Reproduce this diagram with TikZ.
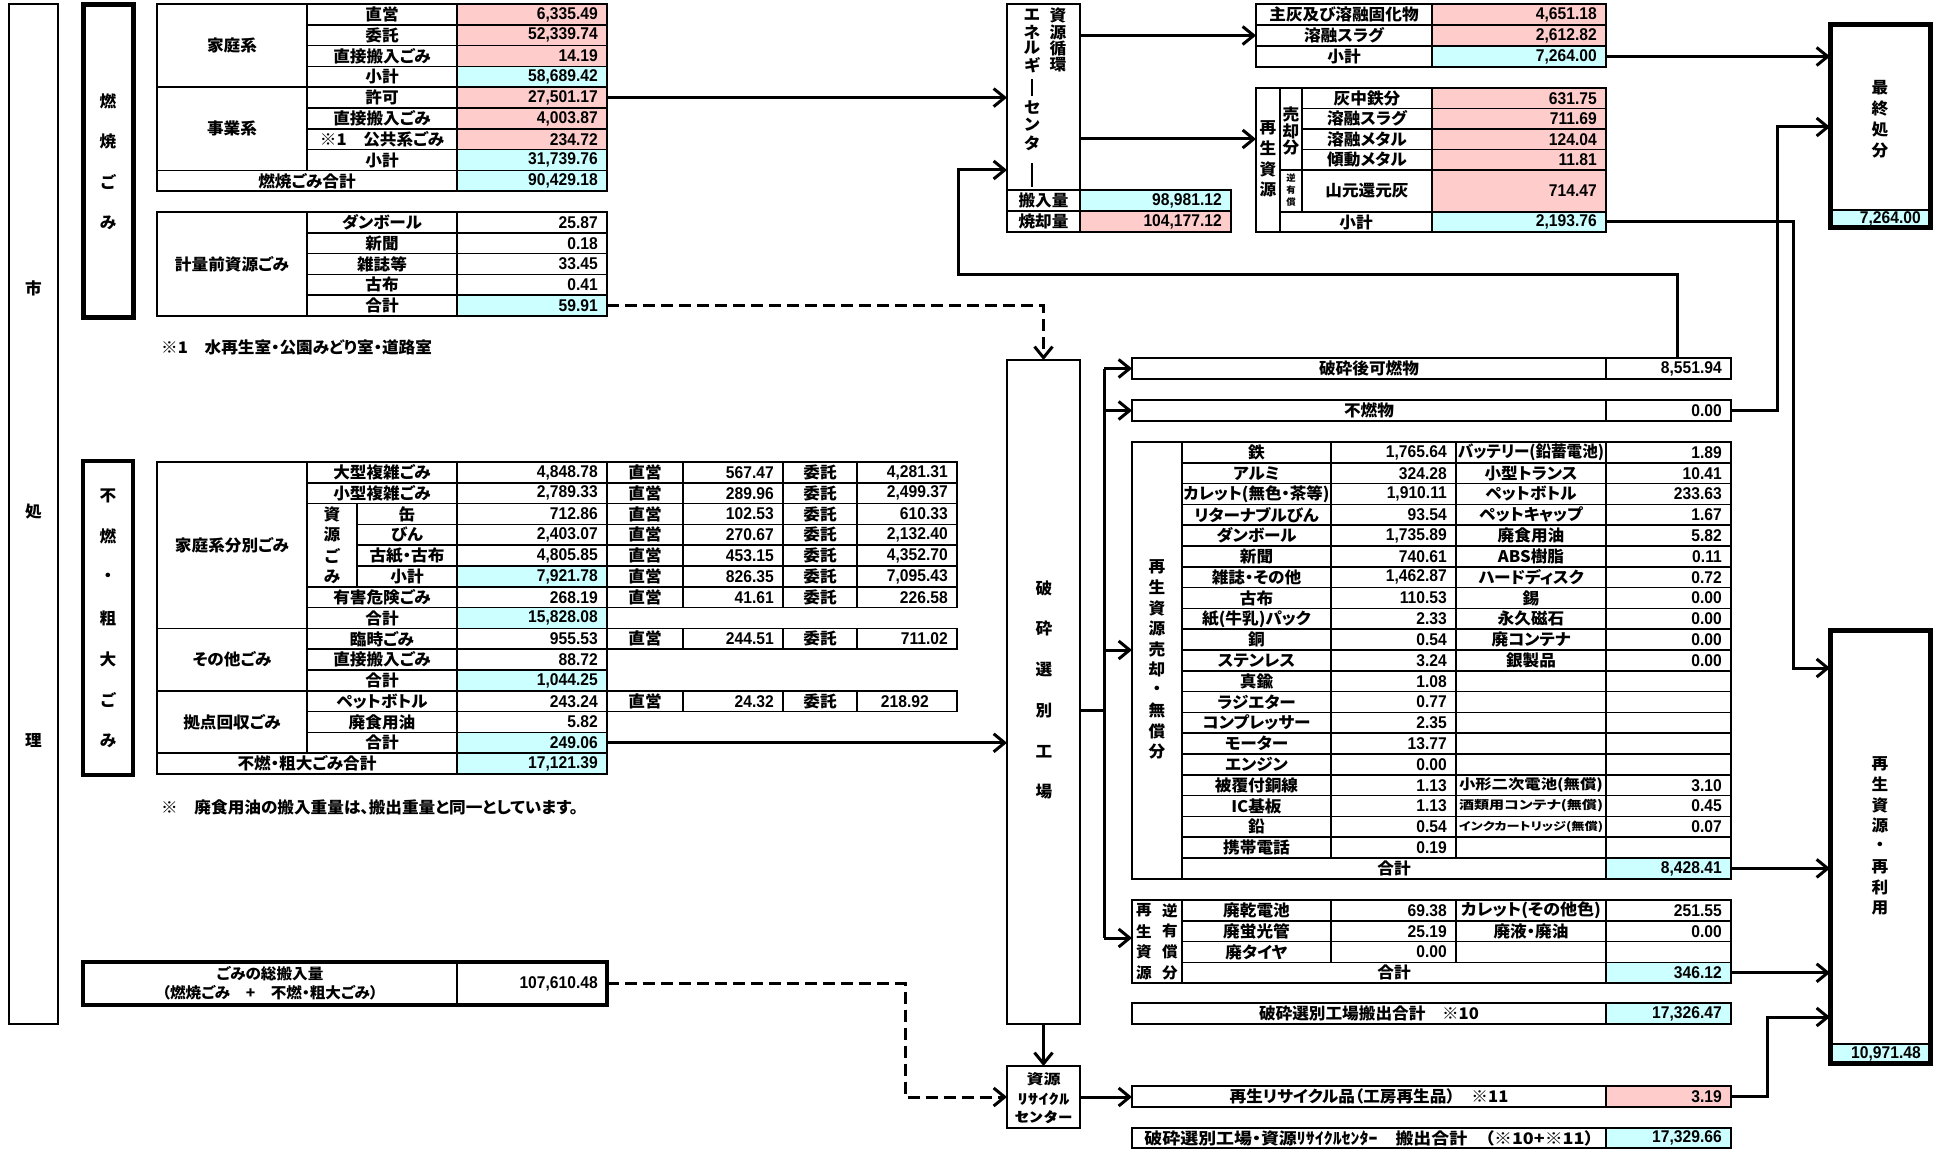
\documentclass[tikz,border=0pt]{standalone}
\usepackage{fontspec}
\usepackage{graphicx}
\usetikzlibrary{arrows.meta}
\newfontfamily\jp{Noto Sans CJK JP}[RawFeature=+palt,FakeStretch=1.04]
\newfontfamily\numf{Liberation Sans}[FakeStretch=0.92]
\definecolor{pk}{RGB}{255,204,204}
\definecolor{cy}{RGB}{204,255,255}
\newcommand\FitW[2]{\resizebox{#1}{\height}{#2}}
\tikzset{
  tx/.style={inner sep=0pt,font=\jp\bfseries\fontsize{16}{18}\selectfont},
  nx/.style={inner sep=0pt,font=\numf\bfseries\fontsize{17}{19}\selectfont},
  cell/.style={draw=black,line width=1.6pt,rectangle,inner sep=0pt,outer sep=0pt},
  bigbox/.style={draw=black,rectangle,inner sep=0pt,outer sep=0pt},
  vbar/.style={fill=black,rectangle,inner sep=0pt,outer sep=0pt,minimum width=2.6},
  conn/.style={line width=3pt,-{Straight Barb[length=11pt,width=18pt]}},
  dconn/.style={conn,dash pattern=on 12pt off 6pt},
  trunk/.style={line width=3pt},
}
% name x1 y1 x2 y2 fill text
\newcommand\Tcell[7]{\node[cell,tx,fill=#6,minimum width={#4-#2},minimum height={#5-#3}] (#1) at ({(#2+#4)/2},{(#3+#5)/2}) {#7};}
\newcommand\Vcell[7]{\node[cell,fill=#6,minimum width={#4-#2},minimum height={#5-#3}] (#1) at ({(#2+#4)/2},{(#3+#5)/2}) {};\node[nx,anchor=east] (#1t) at ([xshift=-9pt]#1.east) {#7};}
% id x1 ytop ybot fill label value
\newcommand\NVrow[7]{\Tcell{#1n}{#2}{#3}{457}{#4}{white}{#6}\Vcell{#1v}{457}{#3}{607}{#4}{#5}{#7}}
% id ytop ybot n1 v1 n2 v2
\newcommand\DRow[7]{\Tcell{#1a}{1182}{#2}{1331}{#3}{white}{#4}\Vcell{#1b}{1331}{#2}{1456}{#3}{white}{#5}\Tcell{#1c}{1456}{#2}{1606}{#3}{white}{#6}\Vcell{#1d}{1606}{#2}{1731}{#3}{white}{#7}}
% id ytop ybot v1 v2
\newcommand\EXrow[5]{\Tcell{#1a}{607}{#2}{683}{#3}{white}{直営}\Vcell{#1b}{683}{#2}{783}{#3}{white}{#4}\Tcell{#1c}{783}{#2}{857}{#3}{white}{委託}\Vcell{#1d}{857}{#2}{957}{#3}{white}{#5}}
% name x y0 pitch style list
\newcommand\VText[6]{\foreach \ch [count=\i] in {#6} {\node[tx,#5] (#1\i) at (#2,{#3+#4*(\i-1)}) {\ch};}}
\begin{document}
\begin{tikzpicture}[x=1pt,y=-1pt]
\fill[white] (0,0) rectangle (1944,1150);
\useasboundingbox (0,0) rectangle (1944,1150);

% ---- left boxes
\node[bigbox,line width=2.6pt,minimum width=49,minimum height=1020] (shi) at (33.5,514) {};
\node[tx] (shi1) at (33.5,288) {市};
\node[tx] (shi2) at (33.5,512) {処};
\node[tx] (shi3) at (33.5,740) {理};
\node[bigbox,line width=5pt,minimum width=50,minimum height=313] (nen) at (108,161.5) {};
\VText{nenc}{108}{101}{40.7}{}{燃,焼,ご,み}
\node[bigbox,line width=3.4pt,minimum width=50,minimum height=314] (fun) at (108,618) {};
\VText{func}{108}{496}{40.8}{}{不,燃,・,粗,大,ご,み}

% ---- table A
\Tcell{Aka}{157}{4}{307}{87.2}{white}{家庭系}
\Tcell{Ajg}{157}{87.2}{307}{170.4}{white}{事業系}
\NVrow{A0}{307}{4}{24.8}{pk}{直営}{6,335.49}
\NVrow{A1}{307}{24.8}{45.6}{pk}{委託}{52,339.74}
\NVrow{A2}{307}{45.6}{66.4}{pk}{直接搬入ごみ}{14.19}
\NVrow{A3}{307}{66.4}{87.2}{cy}{小計}{58,689.42}
\NVrow{A4}{307}{87.2}{108}{pk}{許可}{27,501.17}
\NVrow{A5}{307}{108}{128.8}{pk}{直接搬入ごみ}{4,003.87}
\NVrow{A6}{307}{128.8}{149.6}{pk}{※1　公共系ごみ}{234.72}
\NVrow{A7}{307}{149.6}{170.4}{cy}{小計}{31,739.76}
\NVrow{A8}{157}{170.4}{191.2}{cy}{燃焼ごみ合計}{90,429.18}

% ---- table B
\Tcell{Bl}{157}{212}{307}{316}{white}{計量前資源ごみ}
\NVrow{B0}{307}{212}{232.8}{white}{ダンボール}{25.87}
\NVrow{B1}{307}{232.8}{253.6}{white}{新聞}{0.18}
\NVrow{B2}{307}{253.6}{274.4}{white}{雑誌等}{33.45}
\NVrow{B3}{307}{274.4}{295.2}{white}{古布}{0.41}
\NVrow{B4}{307}{295.2}{316}{cy}{合計}{59.91}
\node[tx,anchor=west] (note1) at (161,347) {※1　水再生室・公園みどり室・道路室};

% ---- table C
\Tcell{Cl1}{157}{462}{307}{628.4}{white}{家庭系分別ごみ}
\Tcell{Cl2}{157}{628.4}{307}{690.8}{white}{その他ごみ}
\Tcell{Cl3}{157}{690.8}{307}{753.2}{white}{拠点回収ごみ}
\node[cell,minimum width=50,minimum height=83.2] (Csg) at (332,545.2) {};
\VText{Csgc}{332}{514}{20.8}{}{資,源,ご,み}
\NVrow{C0}{307}{462}{482.8}{white}{大型複雑ごみ}{4,848.78}
\NVrow{C1}{307}{482.8}{503.6}{white}{小型複雑ごみ}{2,789.33}
\NVrow{C2}{357}{503.6}{524.4}{white}{缶}{712.86}
\NVrow{C3}{357}{524.4}{545.2}{white}{びん}{2,403.07}
\NVrow{C4}{357}{545.2}{566}{white}{古紙・古布}{4,805.85}
\NVrow{C5}{357}{566}{586.8}{cy}{小計}{7,921.78}
\NVrow{C6}{307}{586.8}{607.6}{white}{有害危険ごみ}{268.19}
\NVrow{C7}{307}{607.6}{628.4}{cy}{合計}{15,828.08}
\NVrow{C8}{307}{628.4}{649.2}{white}{臨時ごみ}{955.53}
\NVrow{C9}{307}{649.2}{670}{white}{直接搬入ごみ}{88.72}
\NVrow{C10}{307}{670}{690.8}{cy}{合計}{1,044.25}
\NVrow{C11}{307}{690.8}{711.6}{white}{ペットボトル}{243.24}
\NVrow{C12}{307}{711.6}{732.4}{white}{廃食用油}{5.82}
\NVrow{C13}{307}{732.4}{753.2}{cy}{合計}{249.06}
\NVrow{C14}{157}{753.2}{774}{cy}{不燃・粗大ごみ合計}{17,121.39}
\EXrow{X0}{462}{482.8}{567.47}{4,281.31}
\EXrow{X1}{482.8}{503.6}{289.96}{2,499.37}
\EXrow{X2}{503.6}{524.4}{102.53}{610.33}
\EXrow{X3}{524.4}{545.2}{270.67}{2,132.40}
\EXrow{X4}{545.2}{566}{453.15}{4,352.70}
\EXrow{X5}{566}{586.8}{826.35}{7,095.43}
\EXrow{X6}{586.8}{607.6}{41.61}{226.58}
\EXrow{X8}{628.4}{649.2}{244.51}{711.02}
\Tcell{X11a}{607}{690.8}{683}{711.6}{white}{直営}
\Vcell{X11b}{683}{690.8}{783}{711.6}{white}{24.32}
\Tcell{X11c}{783}{690.8}{857}{711.6}{white}{委託}
\node[cell,minimum width=100,minimum height=20.8] (X11d) at (907,701.2) {};
\node[nx,anchor=east] (X11dt) at ([xshift=-28pt]X11d.east) {218.92};
\node[tx,anchor=west] (note2) at (161,807) {※　廃食用油の搬入重量は、搬出重量と同一としています。};

% ---- total table
\Tcell{Tl}{83}{962}{457}{1005}{white}{}
\node[tx,align=center,font=\jp\bfseries\fontsize{15}{19}\selectfont] (Tlt) at (270,983.5) {ごみの総搬入量\\（燃焼ごみ　+　不燃・粗大ごみ）};
\Vcell{Tv}{457}{962}{607}{1005}{white}{107,610.48}
\node[bigbox,line width=4.5pt,minimum width=524,minimum height=43] (Tbox) at (345,983.5) {};

% ---- energy center
\node[bigbox,line width=2pt,minimum width=73,minimum height=186] (enc) at (1043.5,97) {};
\foreach \ch/\yy [count=\i] in {エ/15,ネ/32,ル/48,ギ/65} {\node[tx] (encl\i) at (1032,\yy) {\ch};}
\node[vbar,minimum height=17] (encl5) at (1032,88) {};
\foreach \ch/\yy [count=\i from 6] in {セ/108,ン/125,タ/143} {\node[tx] (encl\i) at (1032,\yy) {\ch};}
\node[vbar,minimum height=24] (encl9) at (1032,175) {};
\foreach \ch/\yy [count=\i] in {資/15,源/32,循/48,環/65} {\node[tx] (encr\i) at (1058,\yy) {\ch};}
\Tcell{encIn}{1007}{190}{1080}{211}{white}{搬入量}
\Vcell{encInv}{1080}{190}{1231}{211}{cy}{98,981.12}
\Tcell{encBu}{1007}{211}{1080}{232}{white}{焼却量}
\Vcell{encBuv}{1080}{211}{1231}{232}{pk}{104,177.12}

% ---- table 1 (final disposal materials)
\Tcell{Pa}{1256}{4}{1432}{25}{white}{主灰及び溶融固化物}
\Vcell{Pav}{1432}{4}{1606}{25}{pk}{4,651.18}
\Tcell{Pb}{1256}{25}{1432}{46}{white}{溶融スラグ}
\Vcell{Pbv}{1432}{25}{1606}{46}{pk}{2,612.82}
\Tcell{Pc}{1256}{46}{1432}{67}{white}{小計}
\Vcell{Pcv}{1432}{46}{1606}{67}{cy}{7,264.00}

% ---- table 2 (recycled)
\node[cell,minimum width=24,minimum height=144] (Qa) at (1268,160) {};
\VText{Qac}{1268}{128}{20.5}{}{再,生,資,源}
\node[cell,minimum width=22,minimum height=82] (Qb) at (1291,129) {};
\VText{Qbc}{1291}{114}{17}{}{売,却,分}
\node[cell,minimum width=22,minimum height=42] (Qc) at (1291,191) {};
\VText{Qcc}{1291}{178}{12}{font=\jp\bfseries\fontsize{9}{10}\selectfont}{逆,有,償}
\Tcell{Q0}{1302}{88}{1432}{108.5}{white}{灰中鉄分}
\Vcell{Q0v}{1432}{88}{1606}{108.5}{pk}{631.75}
\Tcell{Q1}{1302}{108.5}{1432}{129}{white}{溶融スラグ}
\Vcell{Q1v}{1432}{108.5}{1606}{129}{pk}{711.69}
\Tcell{Q2}{1302}{129}{1432}{149.5}{white}{溶融メタル}
\Vcell{Q2v}{1432}{129}{1606}{149.5}{pk}{124.04}
\Tcell{Q3}{1302}{149.5}{1432}{170}{white}{傾動メタル}
\Vcell{Q3v}{1432}{149.5}{1606}{170}{pk}{11.81}
\Tcell{Q4}{1302}{170}{1432}{212}{white}{山元還元灰}
\Vcell{Q4v}{1432}{170}{1606}{212}{pk}{714.47}
\Tcell{Q5}{1280}{212}{1432}{232}{white}{小計}
\Vcell{Q5v}{1432}{212}{1606}{232}{cy}{2,193.76}

% ---- final disposal box
\Vcell{Fv}{1830}{210}{1930}{228}{cy}{7,264.00}
\node[bigbox,line width=5pt,minimum width=100,minimum height=203] (fin) at (1880,126.5) {};
\VText{finc}{1880}{88}{20.7}{}{最,終,処,分}

% ---- recycle box
\Vcell{Sv}{1830}{1044}{1930}{1063}{cy}{10,971.48}
\node[bigbox,line width=5pt,minimum width=100,minimum height=433] (sai) at (1880,846.5) {};
\VText{saic}{1880}{764}{20.6}{}{再,生,資,源,・,再,利,用}

% ---- crushing plant
\node[bigbox,line width=2.4pt,minimum width=73,minimum height=664] (hsa) at (1043.5,692) {};
\VText{hsac}{1044}{588}{40.8}{}{破,砕,選,別,工,場}

% ---- resource recycle center
\node[bigbox,line width=2pt,minimum width=73,minimum height=62] (rcy) at (1043.5,1097) {};
\node[tx,font=\jp\bfseries\fontsize{14}{16}\selectfont] (rcy1) at (1043.5,1079) {\FitW{34pt}{資源}};
\node[tx,font=\jp\bfseries\fontsize{14}{16}\selectfont] (rcy2) at (1043.5,1099) {\FitW{52pt}{ﾘｻｲｸﾙ}};
\node[tx,font=\jp\bfseries\fontsize{14}{16}\selectfont] (rcy3) at (1043.5,1117) {\FitW{58pt}{ｾﾝﾀｰ}};

% ---- right middle rows
\Tcell{hk}{1132}{358}{1606}{379}{white}{破砕後可燃物}
\Vcell{hkv}{1606}{358}{1731}{379}{white}{8,551.94}
\Tcell{fb}{1132}{400}{1606}{421}{white}{不燃物}
\Vcell{fbv}{1606}{400}{1731}{421}{white}{0.00}

% ---- table D
\node[cell,minimum width=50,minimum height=436.8] (Dl) at (1157,660.4) {};
\VText{Dlc}{1157}{567}{20.5}{}{再,生,資,源,売,却,・,無,償,分}
\DRow{D0}{442}{462.8}{鉄}{1,765.64}{\FitW{146pt}{バッテリー(鉛蓄電池)}}{1.89}
\DRow{D1}{462.8}{483.6}{アルミ}{324.28}{小型トランス}{10.41}
\DRow{D2}{483.6}{504.4}{\FitW{146pt}{カレット(無色・茶等)}}{1,910.11}{ペットボトル}{233.63}
\DRow{D3}{504.4}{525.2}{リターナブルびん}{93.54}{ペットキャップ}{1.67}
\DRow{D4}{525.2}{546}{ダンボール}{1,735.89}{廃食用油}{5.82}
\DRow{D5}{546}{566.8}{新聞}{740.61}{ABS樹脂}{0.11}
\DRow{D6}{566.8}{587.6}{雑誌・その他}{1,462.87}{ハードディスク}{0.72}
\DRow{D7}{587.6}{608.4}{古布}{110.53}{錫}{0.00}
\DRow{D8}{608.4}{629.2}{紙(牛乳)パック}{2.33}{永久磁石}{0.00}
\DRow{D9}{629.2}{650}{銅}{0.54}{廃コンテナ}{0.00}
\DRow{D10}{650}{670.8}{ステンレス}{3.24}{銀製品}{0.00}
\DRow{D11}{670.8}{691.6}{真鍮}{1.08}{}{}
\DRow{D12}{691.6}{712.4}{ラジエター}{0.77}{}{}
\DRow{D13}{712.4}{733.2}{コンプレッサー}{2.35}{}{}
\DRow{D14}{733.2}{754}{モーター}{13.77}{}{}
\DRow{D15}{754}{774.8}{エンジン}{0.00}{}{}
\DRow{D16}{774.8}{795.6}{被覆付銅線}{1.13}{\FitW{144pt}{\fontsize{14}{16}\selectfont 小形二次電池(無償)}}{3.10}
\DRow{D17}{795.6}{816.4}{IC基板}{1.13}{\FitW{144pt}{\fontsize{12}{14}\selectfont 酒類用コンテナ(無償)}}{0.45}
\DRow{D18}{816.4}{837.2}{鉛}{0.54}{\FitW{144pt}{\fontsize{11}{13}\selectfont インクカートリッジ(無償)}}{0.07}
\DRow{D19}{837.2}{858}{携帯電話}{0.19}{}{}
\Tcell{D20}{1182}{858}{1606}{878.8}{white}{合計}
\Vcell{D20v}{1606}{858}{1731}{878.8}{cy}{8,428.41}

% ---- table E
\node[cell,minimum width=50,minimum height=83.2] (El) at (1157,941.6) {};
\VText{Elca}{1144}{910.4}{20.8}{font=\jp\bfseries\fontsize{15}{16}\selectfont}{再,生,資,源}
\VText{Elcb}{1170}{910.4}{20.8}{font=\jp\bfseries\fontsize{15}{16}\selectfont}{逆,有,償,分}
\DRow{E0}{900}{920.8}{廃乾電池}{69.38}{\FitW{140pt}{カレット(その他色)}}{251.55}
\DRow{E1}{920.8}{941.6}{廃蛍光管}{25.19}{廃液・廃油}{0.00}
\DRow{E2}{941.6}{962.4}{廃タイヤ}{0.00}{}{}
\Tcell{E3}{1182}{962.4}{1606}{983.2}{white}{合計}
\Vcell{E3v}{1606}{962.4}{1731}{983.2}{cy}{346.12}

% ---- rows F G H
\Tcell{Fr}{1132}{1003}{1606}{1024}{white}{破砕選別工場搬出合計　※10}
\Vcell{Frv}{1606}{1003}{1731}{1024}{cy}{17,326.47}
\Tcell{Gr}{1132}{1086}{1606}{1107}{white}{再生リサイクル品（工房再生品）　※11}
\Vcell{Grv}{1606}{1086}{1731}{1107}{pk}{3.19}
\Tcell{Hr}{1132}{1128}{1606}{1148}{white}{\FitW{449pt}{破砕選別工場・資源ﾘｻｲｸﾙｾﾝﾀｰ　搬出合計　（※10+※11）}}
\Vcell{Hrv}{1606}{1128}{1731}{1148}{cy}{17,329.66}

% ---- connectors
\draw[conn] (A4v.east) -- (A4v.east -| enc.west);
\draw[dconn] (B4v.east) -| (hsa.north);
\draw[conn] (C13v.east) -- (C13v.east -| hsa.west);
\coordinate (k4) at (905,983.5);
\draw[dconn] (Tv.east) -| (k4 |- rcy.west) -- (rcy.west);
\draw[conn] (hsa.south) -- (rcy.north);
\draw[conn] (Pb.west -| enc.east) -- (Pb.west);
\coordinate (k5) at (1160,139);
\draw[conn] (k5 -| enc.east) -- (k5 -| Qa.west);
\draw[conn] (Pcv.east) -- (Pcv.east -| fin.west);
\coordinate (k2) at (1793,668);
\draw[conn] (Q5v.east) -| (k2) -- (k2 -| sai.west);
\coordinate (k1) at (1677,275);
\coordinate (k6) at (958,170);
\draw[conn] (k1 |- hkv.north) -- (k1) -| (k6) -- (k6 -| enc.west);
\coordinate (k3) at (1777,127);
\draw[conn] (fbv.east) -| (k3) -- (k3 -| fin.west);
\coordinate (br) at (1104,710);
\draw[trunk] (br -| hsa.east) -- (br);
\coordinate (k7) at (1104,650);
\coordinate (k8) at (1104,938);
\draw[trunk] (br |- hk.west) -- (k8);
\draw[conn] (br |- hk.west) -- (hk.west);
\draw[conn] (br |- fb.west) -- (fb.west);
\draw[conn] (k7) -- (k7 -| Dl.west);
\draw[conn] (k8) -- (k8 -| El.west);
\draw[conn] (D20v.east) -- (D20v.east -| sai.west);
\draw[conn] (E3v.east) -- (E3v.east -| sai.west);
\coordinate (k9) at (1767,1017);
\draw[conn] (Grv.east) -| (k9) -- (k9 -| sai.west);
\draw[conn] (rcy.east) -- (rcy.east -| Gr.west);
\end{tikzpicture}
\end{document}
